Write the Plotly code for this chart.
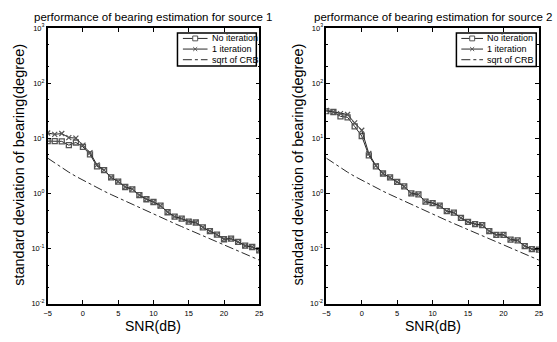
import plotly.graph_objects as go

# ---------------- data ----------------
snr = list(range(-5, 26))

src1_no_iter = [8.9, 8.9, 8.8, 7.5, 8.4, 7.0, 5.1, 3.1, 2.65, 1.95, 1.64, 1.31, 1.19, 0.93, 0.785,
                0.70, 0.60, 0.457, 0.38, 0.35, 0.31, 0.298, 0.243, 0.207, 0.18, 0.148, 0.152,
                0.133, 0.113, 0.107, 0.093]
src1_one_iter = [12.5, 11.8, 12.2, 10.3, 10.1, 7.5, 5.5, 3.3, 2.65, 1.95, 1.65, 1.31, 1.2, 0.93, 0.79,
                 0.70, 0.60, 0.46, 0.38, 0.35, 0.31, 0.298, 0.243, 0.207, 0.18, 0.148, 0.152,
                 0.133, 0.113, 0.107, 0.093]
src1_crb = [4.37, 3.55, 2.92, 2.43, 2.04, 1.74, 1.48, 1.27, 1.10, 0.955, 0.832, 0.724, 0.631, 0.550,
            0.479, 0.417, 0.367, 0.324, 0.285, 0.251, 0.221, 0.195, 0.172, 0.151, 0.133, 0.117,
            0.104, 0.091, 0.080, 0.071, 0.062]

src2_no_iter = [31, 30, 25, 24, 16.4, 11, 4.9, 3.1, 2.3, 1.95, 1.62, 1.34, 1.0, 0.96, 0.71, 0.67,
                0.60, 0.48, 0.45, 0.36, 0.305, 0.278, 0.267, 0.207, 0.178, 0.178, 0.146, 0.141,
                0.111, 0.098, 0.096]
src2_one_iter = [32, 30, 28, 27, 19, 14, 5.3, 3.2, 2.3, 1.95, 1.62, 1.34, 1.0, 0.96, 0.71, 0.67,
                 0.60, 0.48, 0.45, 0.36, 0.305, 0.278, 0.267, 0.207, 0.178, 0.178, 0.146, 0.141,
                 0.111, 0.098, 0.096]
src2_crb = [4.37, 3.55, 2.92, 2.43, 2.04, 1.74, 1.48, 1.27, 1.10, 0.955, 0.832, 0.724, 0.631, 0.550,
            0.479, 0.417, 0.367, 0.324, 0.285, 0.251, 0.221, 0.195, 0.172, 0.151, 0.133, 0.117,
            0.104, 0.091, 0.080, 0.071, 0.062]

y_tick_vals = [0.01, 0.1, 1, 10, 100, 1000]
y_tick_text = ["10<sup>-2</sup>", "10<sup>-1</sup>", "10<sup>0</sup>",
               "10<sup>1</sup>", "10<sup>2</sup>", "10<sup>3</sup>"]
x_tick_vals = [-5, 0, 5, 10, 15, 20, 25]

titles = ["performance of bearing estimation for source 1",
          "performance of bearing estimation for source 2"]
legend_labels = ["No iteration", "1 iteration", "sqrt of CRB"]
x_label = "SNR(dB)"
y_label = "standard deviation of bearing(degree)"

# ---------------- layout constants ----------------
W, H = 557, 342
FONT = "Liberation Sans, Arial, Helvetica, sans-serif"
LINE = "#2a2a2a"
MARK = "#555555"


def px(x):
    return x / W


def py(y):
    return 1 - y / H


fig = go.Figure()

series = [(src1_no_iter, src1_one_iter, src1_crb, "x", "y"),
          (src2_no_iter, src2_one_iter, src2_crb, "x2", "y2")]
for no_it, one_it, crb, xa, ya in series:
    fig.add_trace(go.Scatter(x=snr, y=no_it, xaxis=xa, yaxis=ya, mode="lines+markers",
                             line=dict(color=LINE, width=1),
                             marker=dict(symbol="square-open", size=5, color=MARK,
                                         line=dict(width=1.3, color=MARK)),
                             showlegend=False))
    fig.add_trace(go.Scatter(x=snr, y=one_it, xaxis=xa, yaxis=ya, mode="lines+markers",
                             line=dict(color=LINE, width=1),
                             marker=dict(symbol="x-thin-open", size=5, color=MARK,
                                         line=dict(width=1.2, color=MARK)),
                             showlegend=False))
    fig.add_trace(go.Scatter(x=snr, y=crb, xaxis=xa, yaxis=ya, mode="lines",
                             line=dict(color=LINE, width=1, dash="dashdot"),
                             showlegend=False))

# plot area pixel boxes
boxes = [(44.3, 259.0), (327.0, 542.7)]
top_px, bot_px = 22.7, 307.7

axis_common = dict(showline=True, linecolor="black", linewidth=1.5, mirror="ticks",
                   ticks="inside", ticklen=4, tickcolor="black", showgrid=False,
                   zeroline=False, tickfont=dict(family=FONT, size=7.5, color="black"))

layout_axes = {}
for i, (l, r) in enumerate(boxes):
    sfx = "" if i == 0 else str(i + 1)
    layout_axes["xaxis" + sfx] = dict(axis_common, domain=[px(l), px(r)], range=[-5, 25],
                                      tickvals=x_tick_vals, anchor="y" + sfx, ticklabelstandoff=1)
    layout_axes["yaxis" + sfx] = dict(axis_common, domain=[py(bot_px), py(top_px)],
                                      type="log", range=[-2, 3],
                                      tickvals=y_tick_vals, ticktext=y_tick_text,
                                      anchor="x" + sfx,
                                      minor=dict(ticks="inside", ticklen=2, tickcolor="black",
                                                 showgrid=False))

annotations = []
shapes = []
for i, (l, r) in enumerate(boxes):
    cx = (l + r) / 2
    annotations.append(dict(text=titles[i], x=px(cx), y=py(11), xref="paper", yref="paper",
                            showarrow=False, xanchor="center", yanchor="middle",
                            font=dict(family=FONT, size=11.5, color="black")))
    annotations.append(dict(text=x_label, x=px(cx), y=py(330.5), xref="paper", yref="paper",
                            showarrow=False, xanchor="center", yanchor="middle",
                            font=dict(family=FONT, size=14, color="black")))
    annotations.append(dict(text=y_label, x=px(l - 29), y=py(164), xref="paper", yref="paper",
                            showarrow=False, xanchor="center", yanchor="middle", textangle=-90,
                            font=dict(family=FONT, size=14.5, color="black")))

# legends (drawn as boxes with samples)
legend_geo = [dict(box=(176, 28, 256, 62), line=(181.5, 206.5), text_x=209),
              dict(box=(459, 28, 540, 62.5), line=(464, 486), text_x=488)]
rows = [33.5, 44.5, 55.5]
for g in legend_geo:
    x0, y0, x1, y1 = g["box"]
    shapes.append(dict(type="rect", xref="paper", yref="paper", x0=px(x0), x1=px(x1),
                       y0=py(y1), y1=py(y0), line=dict(color="black", width=1.5),
                       fillcolor="white", layer="above"))
    la, lb = g["line"]
    mid = (la + lb) / 2
    for k, ry in enumerate(rows):
        shapes.append(dict(type="line", xref="paper", yref="paper", x0=px(la), x1=px(lb),
                           y0=py(ry), y1=py(ry),
                           line=dict(color=LINE, width=1, dash="dashdot" if k == 2 else "solid"),
                           layer="above"))
        if k == 0:
            shapes.append(dict(type="rect", xref="paper", yref="paper", x0=px(mid - 2.5),
                               x1=px(mid + 2.5), y0=py(ry + 2.5), y1=py(ry - 2.5),
                               line=dict(color=MARK, width=1), fillcolor="white", layer="above"))
        elif k == 1:
            for d in (1, -1):
                shapes.append(dict(type="line", xref="paper", yref="paper", x0=px(mid - 2),
                                   x1=px(mid + 2), y0=py(ry - 2 * d), y1=py(ry + 2 * d),
                                   line=dict(color=MARK, width=1), layer="above"))
        annotations.append(dict(text=legend_labels[k], x=px(g["text_x"]), y=py(ry),
                                xref="paper", yref="paper", showarrow=False, xanchor="left",
                                yanchor="middle", font=dict(family=FONT, size=9, color="black")))

fig.update_layout(width=W, height=H, margin=dict(l=0, r=0, t=0, b=0),
                  paper_bgcolor="white", plot_bgcolor="white", showlegend=False,
                  annotations=annotations, shapes=shapes, **layout_axes)

fig.write_html("out.html")
